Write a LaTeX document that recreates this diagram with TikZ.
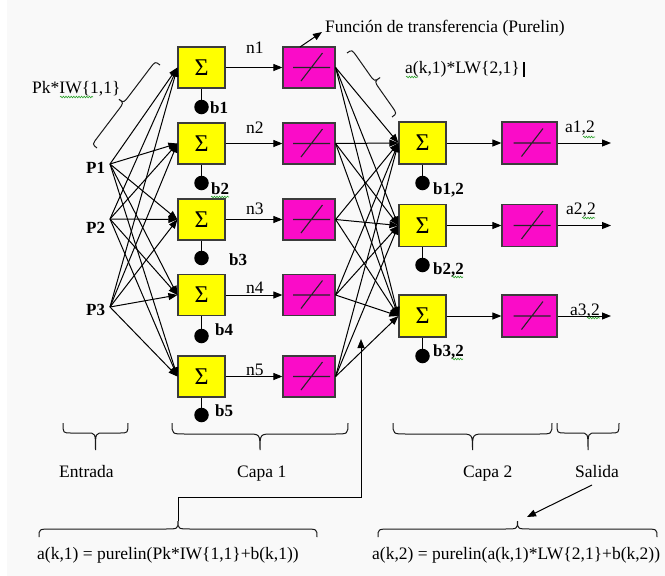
\documentclass[tikz,border=0pt]{standalone}
\usepackage{fontspec}
\setmainfont{Liberation Serif}
\usetikzlibrary{arrows.meta,calc,decorations.pathmorphing}

\definecolor{paper}{RGB}{249,249,249}
\definecolor{sumfill}{RGB}{255,255,0}
\definecolor{tffill}{RGB}{250,12,200}
\definecolor{boxline}{RGB}{60,60,60}
\definecolor{spell}{RGB}{40,160,40}

% Curly brace between two points: #1,#2 end points, #3 depth of the tip,
% #4 depth of the shoulders, #5 length of each curl, #6 side (90 or -90)
\newcommand{\wbrace}[6]{%
  \coordinate (wbA) at (#1);
  \coordinate (wbB) at (#2);
  \coordinate (wbM) at ($(wbA)!0.5!(wbB)$);
  \coordinate (wbAc) at ($(wbA)!#4!#6:(wbB)$);
  \coordinate (wbQ1) at ($(wbA)!#5!(wbB)!#4!#6:(wbB)$);
  \coordinate (wbQ2) at ($(wbM)!#5!(wbA)!#4!#6:(wbB)$);
  \coordinate (wbS) at ($(wbM)!#4!#6:(wbB)$);
  \coordinate (wbT) at ($(wbM)!#3!#6:(wbB)$);
  \coordinate (wbQ3) at ($(wbM)!#5!(wbB)!#4!#6:(wbB)$);
  \coordinate (wbQ4) at ($(wbB)!#5!(wbA)!#4!#6:(wbB)$);
  \coordinate (wbBc) at ($(wbB)+(wbAc)-(wbA)$);
  \draw[bracepen] (wbA) .. controls (wbAc) .. (wbQ1) -- (wbQ2)
    .. controls (wbS) .. (wbT) .. controls (wbS) .. (wbQ3) -- (wbQ4)
    .. controls (wbBc) .. (wbB);
}

\begin{document}
\begin{tikzpicture}[x=1pt,y=-1pt,
  every node/.style={inner sep=0pt},
  txt/.style={font=\fontsize{17.5}{20}\selectfont, anchor=base west},
  lbl/.style={font=\bfseries\fontsize{17}{20}\selectfont, anchor=base west},
  sumbox/.style={draw=boxline, line width=1.2pt, fill=sumfill,
    minimum width=47pt, minimum height=41pt, font=\fontsize{24}{24}\selectfont},
  tfbox/.style={draw=boxline, line width=1.2pt, fill=tffill,
    minimum width=52pt, minimum height=41pt,
    path picture={\draw[line width=1.1pt, black!85,
      shift={(path picture bounding box.center)}]
      (-16,0) -- (21,0) (-8,13.5) -- (13.5,-14.5);}},
  wire/.style={line width=1pt},
  arr/.style={wire, -{Triangle[length=9pt,width=7pt]}},
  bias/.style={circle, fill=black, minimum size=14.5pt},
  bracepen/.style={line width=1pt, black!90},
  spellmark/.style={spell, line width=0.6pt, decorate,
    decoration={snake, amplitude=0.8pt, segment length=2.6pt}}
]
% page
\fill[white] (0,0) rectangle (665,576);
\fill[paper] (7,0) rectangle (665,576);
\useasboundingbox (0,0) rectangle (665,576);

% first layer: summing junctions and transfer functions
\foreach \i/\yy in {1/67.5,2/143.5,3/219.5,4/295,5/376.5}{
  \node[sumbox] (s\i) at (201.5,\yy) {Σ};
  \node[tfbox] (t\i) at (309,\yy) {};
}
% second layer
\foreach \j/\yy in {1/143,2/225.5,3/316}{
  \node[sumbox, minimum height=42pt] (u\j) at (422.5,\yy) {Σ};
  \node[tfbox, minimum width=55pt, minimum height=42pt] (v\j) at (529.5,\yy) {};
  \coordinate (o\j) at (611,\yy);
}

% inputs
\coordinate (p1) at (110,164);
\coordinate (p2) at (110,219);
\coordinate (p3) at (110,307);
\node[lbl] (P1) at (86,173) {P1};
\node[lbl] (P2) at (86,233) {P2};
\node[lbl] (P3) at (86,315) {P3};

% biases of the first layer
\foreach \i/\yy in {1/107,2/183,3/258,4/336,5/415}{
  \node[bias] (bias\i) at (201.5,\yy) {};
  \draw[wire] (s\i.south) -- (bias\i);
}
\node[lbl] (lb1) at (210,113) {b1};
\node[lbl] (lb2) at (211,194) {b2};
\node[lbl] (lb3) at (229,265) {b3};
\node[lbl] (lb4) at (215,335) {b4};
\node[lbl] (lb5) at (215,416) {b5};

% biases of the second layer
\foreach \j/\yy in {1/183,2/265,3/356}{
  \node[bias] (c\j) at (422.5,\yy) {};
  \draw[wire] (u\j.south) -- (c\j);
}
\node[lbl] (lc1) at (433,194) {b1,2};
\node[lbl] (lc2) at (433,274) {b2,2};
\node[lbl] (lc3) at (433,356) {b3,2};

% weighted inputs
\foreach \k in {1,2,3}
  \foreach \i in {1,...,5}
    \draw[arr] (p\k) -- (s\i.west);
% net inputs of layer 1
\foreach \i in {1,...,5}
  \draw[arr] (s\i.east) -- (t\i.west);
% layer 1 outputs into layer 2
\foreach \i in {1,...,5}
  \foreach \j in {1,2,3}
    \draw[arr] (t\i.east) -- (u\j.west);
% layer 2 and outputs
\foreach \j in {1,2,3}{
  \draw[arr] (u\j.east) -- (v\j.west);
  \draw[arr] (v\j.east) -- (o\j);
}

% net input labels
\node[txt] (n1) at (246,53) {n1};
\node[txt] (n2) at (246,133) {n2};
\node[txt] (n3) at (246,214) {n3};
\node[txt] (n4) at (246,293) {n4};
\node[txt] (n5) at (246,375) {n5};
% output labels
\node[txt] (a1) at (565,132) {a1,2};
\node[txt] (a2) at (566,214) {a2,2};
\node[txt] (a3) at (570,315) {a3,2};

% transfer function caption
\node[txt] (fn) at (325,32) {Función de transferencia (Purelin)};
\coordinate (fnfoot) at (300,47);
\coordinate (fntip) at (322,32);
\draw[arr] (fnfoot) -- (fntip);

% weight products
\node[txt] (pkiw) at (32,93) {Pk*IW\{1,1\}};
\wbrace{160,65}{97,148}{12pt}{6pt}{9pt}{-90}
\node[txt] (aklw) at (405,73) {a(k,1)*LW\{2,1\}};
\wbrace{347,53}{392,117}{13pt}{6pt}{9pt}{90}
\draw[line width=1.2pt] (524,62) -- (524,77);

% stage braces and captions
\wbrace{63,423}{128,423}{27pt}{10pt}{8pt}{-90}
\wbrace{172,423}{348,423}{27pt}{11pt}{13pt}{-90}
\wbrace{393,423}{552,423}{27pt}{11pt}{13pt}{-90}
\wbrace{557,423}{619,423}{27pt}{10pt}{8pt}{-90}
\node[txt] (entrada) at (59,477) {Entrada};
\node[txt] (capa1) at (237,477) {Capa 1};
\node[txt] (capa2) at (463,477) {Capa 2};
\node[txt] (salida) at (575,477) {Salida};

% layer equations
\wbrace{39,537}{317,537}{16pt}{8pt}{13pt}{90}
\wbrace{378,537}{657,537}{16pt}{8pt}{13pt}{90}
\node[txt] (eq1) at (37,559) {a(k,1) = purelin(Pk*IW\{1,1\}+b(k,1))};
\node[txt] (eq2) at (372,559) {a(k,2) = purelin(a(k,1)*LW\{2,1\}+b(k,2))};

% leaders from the equations
\coordinate (eq1tip) at (178,521);
\coordinate (eq1turn) at (361,497);
\coordinate (eq1end) at (361,339);
\draw[arr] (eq1tip) |- (eq1turn) -- (eq1end);
\coordinate (salfoot) at (592,485);
\coordinate (eq2tip) at (527,517);
\draw[arr] (salfoot) -- (eq2tip);

% spelling marks
\draw[spellmark] (60,97) -- (93,97);
\draw[spellmark] (406,77) -- (418,77);
\draw[spellmark] (211,197) -- (229,197);
\draw[spellmark] (452,277) -- (463,277);
\draw[spellmark] (452,359) -- (463,359);
\draw[spellmark] (583,137) -- (595,137);
\draw[spellmark] (582,218) -- (595,218);
\draw[spellmark] (587,318) -- (600,318);
\end{tikzpicture}
\end{document}
